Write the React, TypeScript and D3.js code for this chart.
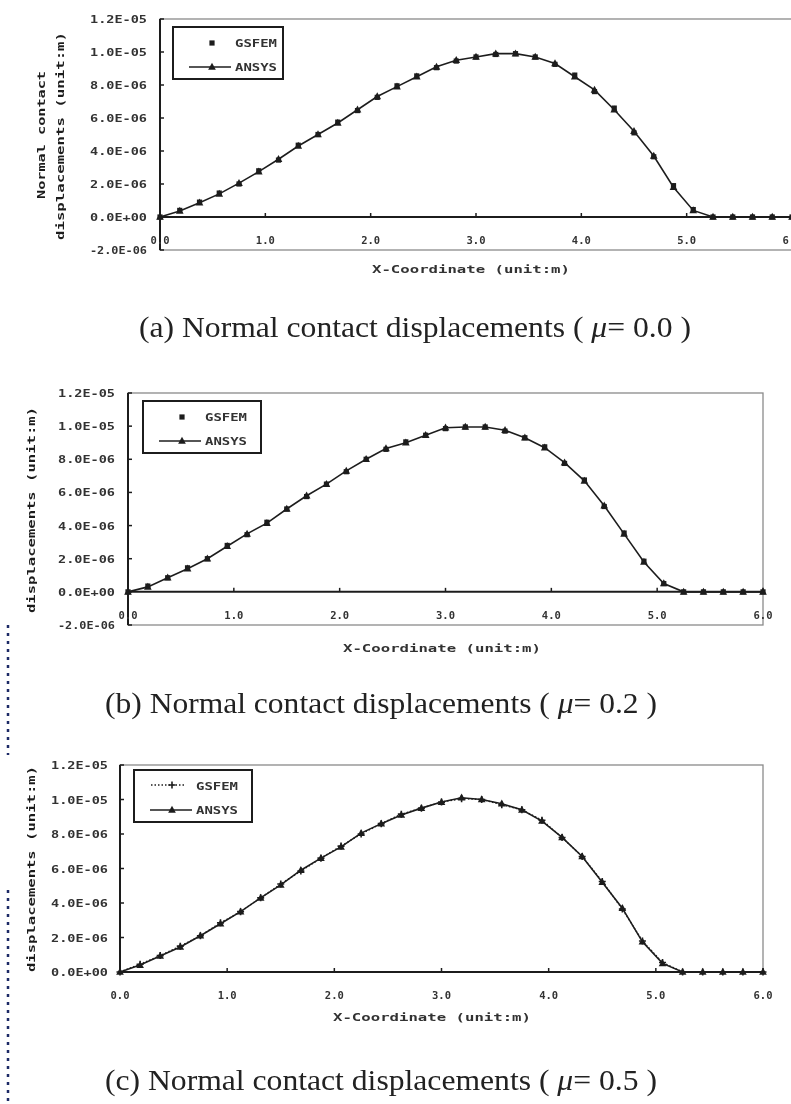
import { useEffect, useRef } from 'react';
import * as d3 from 'd3';

// node positions along the contact surface (m)
const xNodes = [
  0, 0.1875, 0.375, 0.5625, 0.75, 0.9375, 1.125, 1.3125, 1.5, 1.6875, 1.875,
  2.0625, 2.25, 2.4375, 2.625, 2.8125, 3.0, 3.1875, 3.375, 3.5625, 3.75,
  3.9375, 4.125, 4.3125, 4.5, 4.6875, 4.875, 5.0625, 5.25, 5.4375, 5.625, 5.8125, 6.0,
];

// displacements in 1E-06 m
const gsfemA = [0, 0.4, 0.9, 1.45, 2.0, 2.8, 3.45, 4.35, 5.0, 5.75, 6.45, 7.25, 7.95, 8.55, 9.05, 9.45, 9.7, 9.85, 9.9, 9.7, 9.25, 8.6, 7.6, 6.6, 5.1, 3.65, 1.9, 0.45, 0, 0, 0, 0, 0];
const ansysA = [0, 0.37, 0.87, 1.4, 2.05, 2.75, 3.5, 4.3, 5.0, 5.7, 6.5, 7.3, 7.9, 8.5, 9.1, 9.5, 9.7, 9.9, 9.9, 9.7, 9.3, 8.5, 7.7, 6.5, 5.2, 3.7, 1.8, 0.4, 0, 0, 0, 0, 0];

const gsfemB = [0, 0.35, 0.85, 1.45, 2.0, 2.8, 3.45, 4.2, 5.0, 5.75, 6.5, 7.25, 8.0, 8.6, 9.05, 9.45, 9.85, 9.95, 9.95, 9.7, 9.3, 8.75, 7.75, 6.75, 5.15, 3.55, 1.85, 0.5, 0, 0, 0, 0, 0];
const ansysB = [0, 0.3, 0.85, 1.4, 2.0, 2.75, 3.5, 4.15, 5.0, 5.8, 6.5, 7.3, 8.0, 8.65, 9.0, 9.45, 9.9, 9.95, 9.95, 9.75, 9.3, 8.7, 7.8, 6.7, 5.2, 3.5, 1.8, 0.5, 0, 0, 0, 0, 0];

const gsfemC = [0, 0.45, 0.95, 1.5, 2.1, 2.85, 3.5, 4.3, 5.1, 5.85, 6.6, 7.3, 8.0, 8.6, 9.15, 9.5, 9.85, 10.05, 10.0, 9.7, 9.4, 8.8, 7.8, 6.7, 5.25, 3.65, 1.8, 0.55, 0, 0, 0, 0, 0];
const ansysC = [0, 0.4, 0.93, 1.45, 2.1, 2.8, 3.5, 4.3, 5.05, 5.9, 6.6, 7.25, 8.05, 8.6, 9.1, 9.5, 9.85, 10.1, 10.0, 9.75, 9.4, 8.75, 7.8, 6.7, 5.2, 3.7, 1.75, 0.5, 0, 0, 0, 0, 0];

const xTickValues = [0, 1, 2, 3, 4, 5, 6];
const xTickLabels = ['0.0', '1.0', '2.0', '3.0', '4.0', '5.0', '6.0'];
const yTickValuesAB = [-2, 0, 2, 4, 6, 8, 10, 12];
const yTickLabelsAB = ['-2.0E-06', '0.0E+00', '2.0E-06', '4.0E-06', '6.0E-06', '8.0E-06', '1.0E-05', '1.2E-05'];
const yTickValuesC = [0, 2, 4, 6, 8, 10, 12];
const yTickLabelsC = ['0.0E+00', '2.0E-06', '4.0E-06', '6.0E-06', '8.0E-06', '1.0E-05', '1.2E-05'];

const seriesNames = ['GSFEM', 'ANSYS'];
const captionLetters = ['(a)', '(b)', '(c)'];
const muValues = ['0.0', '0.2', '0.5'];
const xTitle = 'X-Coordinate  (unit:m)';
const yTitleLines = ['Normal contact', 'displacements (unit:m)'];

const BITMAP_FONT = '"DejaVu Sans Mono", monospace';
const INK = '#1e1e1e';

const PANELS = [
  {
    gsfem: gsfemA, ansys: ansysA, yTicks: yTickValuesAB, yLabels: yTickLabelsAB, gsfemLine: false,
    left: 160, right: 792, top: 19, bottom: 250, yLabelRight: 147,
    legend: { x: 173, y: 27, w: 110, h: 52 },
    yTitle: [{ x: 45, cy: 135, len: 128, line: 0 }, { x: 64, cy: 136, len: 208, line: 1 }],
    xLabelY: 244, xTitleX: 471, xTitleY: 273,
    caption: { x: 139, y: 337 },
  },
  {
    gsfem: gsfemB, ansys: ansysB, yTicks: yTickValuesAB, yLabels: yTickLabelsAB, gsfemLine: false,
    left: 128, right: 763, top: 393, bottom: 625, yLabelRight: 115,
    legend: { x: 143, y: 401, w: 118, h: 52 },
    yTitle: [{ x: 35, cy: 510, len: 206, line: 1 }],
    xLabelY: 619, xTitleX: 442, xTitleY: 652,
    caption: { x: 105, y: 713 },
  },
  {
    gsfem: gsfemC, ansys: ansysC, yTicks: yTickValuesC, yLabels: yTickLabelsC, gsfemLine: true,
    left: 120, right: 763, top: 765, bottom: 972, yLabelRight: 108,
    legend: { x: 134, y: 770, w: 118, h: 52 },
    yTitle: [{ x: 35, cy: 869, len: 206, line: 1 }],
    xLabelY: 999, xTitleX: 432, xTitleY: 1021,
    caption: { x: 105, y: 1090 },
  },
];

const drawTriangle = (g, cx, cy, s) => {
  g.append('path')
    .attr('d', `M${cx},${cy - s * 0.6}L${cx + s * 0.55},${cy + s * 0.4}L${cx - s * 0.55},${cy + s * 0.4}Z`)
    .attr('fill', INK);
};

const drawPlus = (g, cx, cy, s) => {
  g.append('path')
    .attr('d', `M${cx - s},${cy}H${cx + s}M${cx},${cy - s}V${cy + s}`)
    .attr('stroke', INK)
    .attr('stroke-width', 1.6);
};

const drawPanel = (root, p, i) => {
  const g = root.append('g');
  const x = d3.scaleLinear().domain([0, 6]).range([p.left, p.right]);
  const y = d3.scaleLinear().domain([p.yTicks[0], 12]).range([p.bottom, p.top]);

  // frame
  g.append('rect')
    .attr('x', p.left).attr('y', p.top)
    .attr('width', p.right - p.left).attr('height', p.bottom - p.top)
    .attr('fill', 'none').attr('stroke', '#8a8a8a').attr('stroke-width', 1.3);
  g.append('line')
    .attr('x1', p.left).attr('x2', p.left).attr('y1', p.top).attr('y2', p.bottom)
    .attr('stroke', INK).attr('stroke-width', 2);
  g.append('line')
    .attr('x1', p.left).attr('x2', p.right).attr('y1', y(0)).attr('y2', y(0))
    .attr('stroke', INK).attr('stroke-width', 2);

  // y ticks + labels
  p.yTicks.forEach((v, k) => {
    g.append('line')
      .attr('x1', p.left).attr('x2', p.left + 4).attr('y1', y(v)).attr('y2', y(v))
      .attr('stroke', INK).attr('stroke-width', 1.5);
    g.append('text')
      .attr('x', p.yLabelRight).attr('y', y(v) + 4)
      .attr('text-anchor', 'end')
      .attr('font-family', BITMAP_FONT).attr('font-weight', 'bold').attr('font-size', 10.5)
      .attr('fill', '#333')
      .attr('textLength', 57).attr('lengthAdjust', 'spacingAndGlyphs')
      .text(p.yLabels[k]);
  });

  // x ticks + labels
  xTickValues.forEach((v, k) => {
    g.append('line')
      .attr('x1', x(v)).attr('x2', x(v)).attr('y1', y(0)).attr('y2', y(0) - 4)
      .attr('stroke', INK).attr('stroke-width', 1.5);
    g.append('text')
      .attr('x', x(v)).attr('y', p.xLabelY)
      .attr('text-anchor', 'middle')
      .attr('font-family', BITMAP_FONT).attr('font-weight', 'bold').attr('font-size', 10.5)
      .attr('fill', '#333')
      .text(xTickLabels[k]);
  });

  // axis titles
  g.append('text')
    .attr('x', p.xTitleX).attr('y', p.xTitleY)
    .attr('text-anchor', 'middle')
    .attr('font-family', BITMAP_FONT).attr('font-weight', 'bold').attr('font-size', 10.5)
    .attr('fill', '#333')
    .attr('textLength', 198).attr('lengthAdjust', 'spacingAndGlyphs')
    .text(xTitle);
  p.yTitle.forEach((t) => {
    g.append('text')
      .attr('transform', `translate(${t.x},${t.cy}) rotate(-90)`)
      .attr('text-anchor', 'middle')
      .attr('font-family', BITMAP_FONT).attr('font-weight', 'bold').attr('font-size', 11)
      .attr('fill', INK)
      .attr('textLength', t.len).attr('lengthAdjust', 'spacingAndGlyphs')
      .text(yTitleLines[t.line]);
  });

  // series
  const line = d3.line().x((d) => x(d[0])).y((d) => y(d[1]));
  const ansysPts = xNodes.map((xv, k) => [xv, p.ansys[k]]);
  const gsfemPts = xNodes.map((xv, k) => [xv, p.gsfem[k]]);

  g.append('path')
    .attr('d', line(ansysPts))
    .attr('fill', 'none').attr('stroke', INK).attr('stroke-width', 1.6);
  if (p.gsfemLine) {
    g.append('path')
      .attr('d', line(gsfemPts))
      .attr('fill', 'none').attr('stroke', INK).attr('stroke-width', 1.4)
      .attr('stroke-dasharray', '1.5,2');
  }
  ansysPts.forEach((d) => drawTriangle(g, x(d[0]), y(d[1]), 7));
  gsfemPts.forEach((d) => {
    if (p.gsfemLine) {
      drawPlus(g, x(d[0]), y(d[1]), 3.5);
    } else {
      g.append('rect')
        .attr('x', x(d[0]) - 2.6).attr('y', y(d[1]) - 2.6)
        .attr('width', 5.2).attr('height', 5.2)
        .attr('fill', INK);
    }
  });

  // legend
  const L = p.legend;
  const lg = g.append('g');
  lg.append('rect')
    .attr('x', L.x).attr('y', L.y).attr('width', L.w).attr('height', L.h)
    .attr('fill', 'white').attr('stroke', INK).attr('stroke-width', 2);
  const midX = L.x + (p.gsfemLine ? 38 : 39);
  if (p.gsfemLine) {
    lg.append('line')
      .attr('x1', L.x + 17).attr('x2', L.x + 52).attr('y1', L.y + 15).attr('y2', L.y + 15)
      .attr('stroke', INK).attr('stroke-width', 1.4).attr('stroke-dasharray', '1.5,2');
    drawPlus(lg, midX, L.y + 15, 3.5);
  } else {
    lg.append('rect')
      .attr('x', midX - 2.6).attr('y', L.y + 16 - 2.6).attr('width', 5.2).attr('height', 5.2)
      .attr('fill', INK);
  }
  lg.append('line')
    .attr('x1', L.x + 16).attr('x2', L.x + 58).attr('y1', L.y + 40).attr('y2', L.y + 40)
    .attr('stroke', INK).attr('stroke-width', 1.6);
  drawTriangle(lg, midX, L.y + 40, 7);
  seriesNames.forEach((name, k) => {
    lg.append('text')
      .attr('x', L.x + 62).attr('y', L.y + (k === 0 ? 16 : 40) + 4)
      .attr('font-family', BITMAP_FONT).attr('font-weight', 'bold').attr('font-size', 10.5)
      .attr('fill', '#333')
      .attr('textLength', 42).attr('lengthAdjust', 'spacingAndGlyphs')
      .text(name);
  });

  // caption
  const cap = g.append('text')
    .attr('x', p.caption.x).attr('y', p.caption.y)
    .attr('font-family', '"Liberation Serif", "Times New Roman", serif')
    .attr('font-size', 30)
    .attr('fill', '#222')
    .attr('textLength', 552).attr('lengthAdjust', 'spacingAndGlyphs');
  cap.append('tspan').text(`${captionLetters[i]} Normal contact displacements ( `);
  cap.append('tspan').attr('font-style', 'italic').text('\u03bc');
  cap.append('tspan').text(`= ${muValues[i]} )`);
};

const App = () => {
  const svgRef = useRef(null);

  useEffect(() => {
    const svg = d3.select(svgRef.current);
    svg.selectAll('*').remove();

    svg.append('defs').append('filter')
      .attr('id', 'soft')
      .append('feGaussianBlur').attr('stdDeviation', 0.35);

    const root = svg.append('g').attr('filter', 'url(#soft)');
    root.append('rect').attr('width', 791).attr('height', 1104).attr('fill', 'white');

    PANELS.forEach((p, i) => drawPanel(root, p, i));

    // scan edge of the neighbouring page
    [[625, 755], [890, 1104]].forEach(([y1, y2]) => {
      root.append('line')
        .attr('x1', 8).attr('x2', 8).attr('y1', y1).attr('y2', y2)
        .attr('stroke', '#1c2a66').attr('stroke-width', 2.5)
        .attr('stroke-dasharray', '3,5');
    });
  }, []);

  return (
    <div style={{ position: 'absolute', left: 0, top: 0 }}>
      <svg ref={svgRef} width={791} height={1104} style={{ display: 'block' }} />
    </div>
  );
};

export default App;
